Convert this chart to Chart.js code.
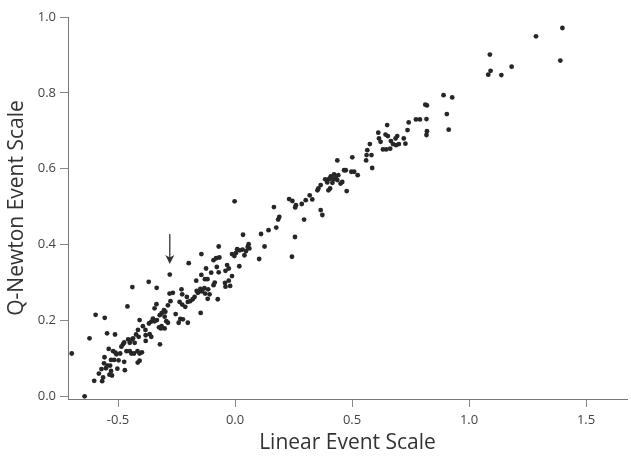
<!DOCTYPE html>
<html>
<head>
<meta charset="utf-8">
<script src="https://cdn.jsdelivr.net/npm/chart.js@4"></script>
<style>
html,body{margin:0;padding:0;background:#fff;}
#wrap{width:631px;height:458px;position:relative;}
</style>
</head>
<body>
<div id="wrap"><canvas id="c" width="631" height="458"></canvas></div>
<script>
// Linear event scale (x) and Q-Newton event scale (y)
const linearEvent = [
  -0.698,-0.643,-0.596,-0.557,-0.460,-0.622,-0.547,-0.513,-0.602,-0.568,
  -0.564,-0.582,-0.571,-0.552,-0.560,-0.558,-0.545,-0.534,-0.530,-0.526,
  -0.537,-0.540,-0.521,-0.530,-0.517,-0.507,-0.511,-0.503,-0.498,-0.474,
  -0.471,-0.491,-0.486,-0.479,-0.474,-0.464,-0.450,-0.443,-0.450,-0.457,
  -0.436,-0.432,-0.417,-0.408,-0.398,-0.412,-0.416,-0.408,-0.440,-0.429,
  -0.423,-0.415,-0.382,-0.321,-0.439,
  -0.336,-0.344,-0.322,-0.314,-0.304,-0.298,-0.301,-0.294,-0.287,-0.314,
  -0.301,-0.317,-0.325,-0.351,-0.358,-0.368,-0.344,-0.334,-0.408,-0.394,
  -0.383,-0.365,-0.358,-0.382,-0.237,-0.226,-0.213,-0.202,-0.287,-0.276,
  -0.254,-0.234,-0.223,-0.202,-0.241,
  -0.279,-0.369,-0.335,-0.198,-0.144,-0.070,-0.092,-0.081,-0.067,-0.078,
  -0.070,-0.124,-0.102,-0.144,-0.129,-0.118,-0.166,-0.164,-0.148,-0.142,
  -0.131,-0.115,-0.109,-0.117,-0.128,-0.087,-0.092,-0.041,-0.027,-0.034,
  -0.013,-0.043,-0.027,-0.021,-0.041,-0.074,-0.147,-0.173,-0.181,-0.192,
  -0.159,-0.152,-0.229,-0.226,-0.206,-0.280,-0.266,
  0.058,0.054,0.061,0.047,0.040,0.032,0.020,0.009,0.004,-0.013,-0.003,0.018,
  -0.002,0.166,0.189,0.184,0.176,0.143,0.111,0.126,0.103,0.034,0.256,0.243,
  0.650,0.612,0.615,0.622,0.643,0.653,0.632,0.646,0.663,0.666,
  0.675,0.686,0.693,0.688,0.700,0.721,0.728,0.737,0.576,0.565,
  0.562,0.583,0.560,0.586,0.501,0.437,0.497,0.509,0.524,0.466,
  0.473,0.477,0.458,0.451,0.423,0.430,0.441,0.437,0.409,0.420,
  0.416,0.402,0.385,0.394,0.406,0.399,0.366,0.356,0.352,0.319,
  0.330,0.302,0.285,0.260,0.245,0.257,0.231,0.366,0.373,0.295,
  1.399,1.286,1.089,1.390,1.182,1.092,1.082,1.138,0.891,0.928,
  0.813,0.820,0.905,0.913,0.773,0.790,0.818,0.742,0.820,0.818
];
const qNewtonEvent = [
  0.113,0.000,0.215,0.207,0.237,0.153,0.166,0.163,0.041,0.040,
  0.050,0.060,0.072,0.074,0.087,0.103,0.081,0.081,0.067,0.055,
  0.057,0.125,0.119,0.096,0.096,0.111,0.115,0.073,0.095,0.091,
  0.069,0.113,0.131,0.137,0.142,0.119,0.119,0.113,0.141,0.150,
  0.153,0.113,0.119,0.113,0.116,0.157,0.089,0.094,0.150,0.141,
  0.163,0.175,0.146,0.137,0.288,
  0.243,0.232,0.214,0.219,0.227,0.223,0.210,0.198,0.194,0.185,
  0.179,0.179,0.182,0.205,0.197,0.192,0.198,0.201,0.201,0.185,
  0.175,0.164,0.157,0.161,0.249,0.242,0.236,0.249,0.240,0.251,
  0.217,0.204,0.203,0.194,0.194,
  0.321,0.302,0.286,0.351,0.375,0.395,0.359,0.364,0.366,0.341,
  0.327,0.337,0.326,0.320,0.309,0.309,0.305,0.278,0.283,0.277,
  0.285,0.282,0.269,0.257,0.271,0.300,0.293,0.331,0.337,0.346,
  0.317,0.299,0.305,0.291,0.289,0.256,0.220,0.262,0.256,0.251,
  0.273,0.277,0.282,0.269,0.262,0.271,0.273,
  0.401,0.394,0.390,0.383,0.372,0.387,0.385,0.388,0.378,0.375,0.370,0.343,
  0.514,0.499,0.473,0.466,0.445,0.438,0.428,0.395,0.362,0.426,0.420,0.368,
  0.715,0.695,0.680,0.671,0.690,0.686,0.651,0.651,0.653,0.673,
  0.665,0.680,0.686,0.662,0.665,0.680,0.666,0.702,0.665,0.649,
  0.636,0.636,0.622,0.602,0.630,0.622,0.592,0.592,0.583,0.596,
  0.596,0.541,0.565,0.561,0.585,0.579,0.583,0.570,0.580,0.572,
  0.563,0.573,0.572,0.564,0.548,0.543,0.557,0.548,0.543,0.530,
  0.519,0.517,0.507,0.504,0.515,0.498,0.520,0.491,0.478,0.466,
  0.971,0.949,0.901,0.885,0.869,0.858,0.848,0.847,0.794,0.788,
  0.769,0.767,0.744,0.703,0.730,0.730,0.731,0.722,0.699,0.689
];
const xTickValues = [-0.5, 0.0, 0.5, 1.0, 1.5];
const yTickValues = [0.0, 0.2, 0.4, 0.6, 0.8, 1.0];
const xTitle = 'Linear Event Scale';
const yTitle = 'Q-Newton Event Scale';
// annotation arrow (data coordinates)
const arrowX = -0.279;
const arrowFromY = 0.428;
const arrowToY = 0.349;

const points = linearEvent.map((x, i) => ({x: x, y: qNewtonEvent[i]}));

const arrowPlugin = {
  id: 'arrow',
  afterDatasetsDraw(chart) {
    const {ctx, scales} = chart;
    const px = scales.x.getPixelForValue(arrowX);
    const y0 = scales.y.getPixelForValue(arrowFromY);
    const y1 = scales.y.getPixelForValue(arrowToY);
    ctx.save();
    ctx.strokeStyle = '#333';
    ctx.fillStyle = '#333';
    ctx.lineWidth = 1.3;
    ctx.beginPath();
    ctx.moveTo(px, y0);
    ctx.lineTo(px, y1 - 6);
    ctx.stroke();
    ctx.beginPath();
    ctx.moveTo(px, y1);
    ctx.lineTo(px - 4.5, y1 - 9);
    ctx.lineTo(px, y1 - 6.5);
    ctx.lineTo(px + 4.5, y1 - 9);
    ctx.closePath();
    ctx.fill();
    ctx.restore();
  }
};

const tickFont = {family: 'Open Sans', size: 13};
const titleFont = {family: 'Open Sans', size: 21};

new Chart(document.getElementById('c'), {
  type: 'scatter',
  data: {
    datasets: [{
      data: points,
      pointRadius: 2.4,
      pointBackgroundColor: '#262626',
      pointBorderWidth: 0,
      showLine: false
    }]
  },
  options: {
    responsive: false,
    animation: false,
    devicePixelRatio: 1,
    layout: {padding: {top: 17, right: 2, left: 0, bottom: 0}},
    plugins: {legend: {display: false}, tooltip: {enabled: false}},
    scales: {
      x: {
        type: 'linear',
        position: 'bottom',
        min: -0.714,
        max: 1.675,
        afterBuildTicks: s => { s.ticks = xTickValues.map(v => ({value: v})); },
        afterFit: s => { s.height = 59; },
        ticks: {
          callback: v => Number(v).toFixed(1),
          font: tickFont, color: '#444', padding: 5,
          maxRotation: 0, autoSkip: false
        },
        grid: {drawOnChartArea: false, drawTicks: true, tickLength: 8, color: '#888', lineWidth: 1},
        border: {display: true, color: '#777', width: 1},
        title: {display: true, text: xTitle, font: titleFont, color: '#333', padding: {top: 0, bottom: 2}}
      },
      y: {
        type: 'linear',
        min: -0.007,
        max: 1.0,
        afterBuildTicks: s => { s.ticks = yTickValues.map(v => ({value: v})); },
        afterFit: s => { s.width = 68; },
        ticks: {
          callback: v => Number(v).toFixed(1),
          font: tickFont, color: '#444', padding: 4, autoSkip: false
        },
        grid: {drawOnChartArea: false, drawTicks: true, tickLength: 8, color: '#888', lineWidth: 1},
        border: {display: true, color: '#777', width: 1},
        title: {display: true, text: yTitle, font: titleFont, color: '#333', padding: {top: 4, bottom: 0}}
      }
    }
  },
  plugins: [arrowPlugin]
});
</script>
</body>
</html>
